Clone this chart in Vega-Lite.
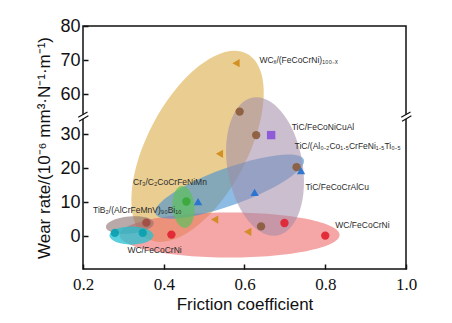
{
  "$schema": "https://vega.github.io/schema/vega-lite/v6.json",
  "width": 323,
  "height": 243,
  "autosize": "none",
  "padding": {"left": 83, "top": 26, "right": 46, "bottom": 54},
  "background": "white",
  "config": {
    "view": {"stroke": "#111", "strokeWidth": 1.5},
    "axis": {"grid": false, "domain": false, "tickColor": "#111", "tickWidth": 1.5, "tickSize": -5, "labelColor": "#111", "titleColor": "#111", "titleFontWeight": "normal"}
  },
  "datasets": {
    "ellipses": [
      {"name": "yellow", "x": 0.484, "y": 26.4},
      {"name": "mauve", "x": 0.651, "y": 20.5},
      {"name": "blue", "x": 0.563, "y": 14.6},
      {"name": "red", "x": 0.563, "y": 0.4},
      {"name": "green", "x": 0.449, "y": 8.6},
      {"name": "tib2", "x": 0.316, "y": 3.3},
      {"name": "cyan", "x": 0.32, "y": 0.2}
    ],
    "points": [
      {"series": "WCx", "x": 0.579, "y": 69.1},
      {"series": "WCx", "x": 0.538, "y": 24.2},
      {"series": "WCx", "x": 0.526, "y": 4.9},
      {"series": "WCx", "x": 0.608, "y": 1.3},
      {"series": "FeCoNiCuAl", "x": 0.588, "y": 54.9},
      {"series": "FeCoNiCuAl", "x": 0.629, "y": 29.7},
      {"series": "FeCoNiCuAl", "x": 0.641, "y": 2.9},
      {"series": "FeCoNiCuAl", "x": 0.729, "y": 20.3},
      {"series": "AlCoCrFeNiTi", "x": 0.666, "y": 29.7},
      {"series": "FeCoCrAlCu", "x": 0.74, "y": 19.3},
      {"series": "FeCoCrAlCu", "x": 0.625, "y": 12.9},
      {"series": "FeCoCrAlCu", "x": 0.485, "y": 10.2},
      {"series": "CoCrFeNiMn", "x": 0.456, "y": 10.2},
      {"series": "WC", "x": 0.419, "y": 0.5},
      {"series": "WC", "x": 0.699, "y": 3.9},
      {"series": "WC", "x": 0.8, "y": 0.2},
      {"series": "WC2", "x": 0.279, "y": 1.0},
      {"series": "WC2", "x": 0.348, "y": 1.0},
      {"series": "TiB2", "x": 0.357, "y": 4.0}
    ],
    "labels": [
      {"label": "WCₓ/(FeCoCrNi)₁₀₀₋ₓ", "x": 0.637, "y": 70},
      {"label": "TiC/FeCoNiCuAl", "x": 0.717, "y": 32.2},
      {"label": "TiC/(Al₀.₂Co₁.₅CrFeNi₁.₅Ti₀.₅", "x": 0.724, "y": 26.5},
      {"label": "TiC/FeCoCrAlCu", "x": 0.751, "y": 14.6},
      {"label": "WC/FeCoCrNi", "x": 0.825, "y": 3.4},
      {"label": "Cr₃/C₂CoCrFeNiMn", "x": 0.324, "y": 15.8},
      {"label": "TiB₂/(AlCrFeMnV)₉₀Bi₁₀", "x": 0.225, "y": 7.6},
      {"label": "WC/FeCoCrNi", "x": 0.31, "y": -4.1}
    ],
    "breaks": [
      {"x": 0.2, "y": 44},
      {"x": 1.0, "y": 44}
    ]
  },
  "encoding": {
    "x": {"field": "x", "type": "quantitative",
      "scale": {"domain": [0.2, 1.0], "nice": false, "zero": false},
      "axis": {"values": [0.2, 0.4, 0.6, 0.8, 1.0], "format": ".1f", "title": "Friction coefficient",
        "labelFont": "Liberation Serif", "labelFontSize": 17, "labelPadding": 12, "labelFlush": false,
        "titleFont": "Liberation Sans", "titleFontSize": 17, "titlePadding": 4}},
    "y": {"field": "y", "type": "quantitative",
      "scale": {"domain": [-9.6, 35.1, 53.4, 80], "range": [243, 90.7, 90.7, 0], "nice": false, "zero": false},
      "axis": {"values": [0, 10, 20, 30, 60, 70, 80], "title": "Wear rate/(10⁻⁶ mm³·N⁻¹·m⁻¹)",
        "labelFont": "Liberation Sans", "labelFontSize": 18, "labelPadding": 8,
        "titleFont": "Liberation Sans", "titleFontSize": 17, "titlePadding": 6}}
  },
  "layer": [
    {"data": {"name": "ellipses"}, "transform": [{"filter": "datum.name === 'yellow'"}],
     "mark": {"type": "point", "filled": true, "shape": "M 1 0 C 1 0.2629 0.5523 0.476 0 0.476 C -0.5523 0.476 -1 0.2629 -1 0 C -1 -0.2629 -0.5523 -0.476 0 -0.476 C 0.5523 -0.476 1 -0.2629 1 0 Z", "size": 44100, "angle": 298, "color": "#dcae48", "opacity": 0.6, "strokeWidth": 0}},
    {"data": {"name": "ellipses"}, "transform": [{"filter": "datum.name === 'red'"}],
     "mark": {"type": "point", "filled": true, "shape": "M 1 0 C 1 0.1129 0.5523 0.2045 0 0.2045 C -0.5523 0.2045 -1 0.1129 -1 0 C -1 -0.1129 -0.5523 -0.2045 0 -0.2045 C 0.5523 -0.2045 1 -0.1129 1 0 Z", "size": 48400, "angle": 0, "color": "#ee6a6a", "opacity": 0.6, "strokeWidth": 0}},
    {"data": {"name": "ellipses"}, "transform": [{"filter": "datum.name === 'blue'"}],
     "mark": {"type": "point", "filled": true, "shape": "M 1 0 C 1 0.1298 0.5523 0.235 0 0.235 C -0.5523 0.235 -1 0.1298 -1 0 C -1 -0.1298 -0.5523 -0.235 0 -0.235 C 0.5523 -0.235 1 -0.1298 1 0 Z", "size": 24964, "angle": 340, "color": "#3f8fd2", "opacity": 0.6, "strokeWidth": 0}},
    {"data": {"name": "ellipses"}, "transform": [{"filter": "datum.name === 'mauve'"}],
     "mark": {"type": "point", "filled": true, "shape": "M 1 0 C 1 0.296 0.5523 0.536 0 0.536 C -0.5523 0.536 -1 0.296 -1 0 C -1 -0.296 -0.5523 -0.536 0 -0.536 C 0.5523 -0.536 1 -0.296 1 0 Z", "size": 19600, "angle": 80, "color": "#a08aa8", "opacity": 0.55, "strokeWidth": 0}},
    {"data": {"name": "ellipses"}, "transform": [{"filter": "datum.name === 'green'"}],
     "mark": {"type": "point", "filled": true, "shape": "M 1 0 C 1 0.2894 0.5523 0.524 0 0.524 C -0.5523 0.524 -1 0.2894 -1 0 C -1 -0.2894 -0.5523 -0.524 0 -0.524 C 0.5523 -0.524 1 -0.2894 1 0 Z", "size": 1764, "angle": 85, "color": "#5cc05c", "opacity": 0.7, "strokeWidth": 0}},
    {"data": {"name": "ellipses"}, "transform": [{"filter": "datum.name === 'tib2'"}],
     "mark": {"type": "point", "filled": true, "shape": "M 1 0 C 1 0.1955 0.5523 0.354 0 0.354 C -0.5523 0.354 -1 0.1955 -1 0 C -1 -0.1955 -0.5523 -0.354 0 -0.354 C 0.5523 -0.354 1 -0.1955 1 0 Z", "size": 2304, "angle": 355, "color": "#8c7070", "opacity": 0.6, "strokeWidth": 0}},
    {"data": {"name": "ellipses"}, "transform": [{"filter": "datum.name === 'cyan'"}],
     "mark": {"type": "point", "filled": true, "shape": "M 1 0 C 1 0.2264 0.5523 0.41 0 0.41 C -0.5523 0.41 -1 0.2264 -1 0 C -1 -0.2264 -0.5523 -0.41 0 -0.41 C 0.5523 -0.41 1 -0.2264 1 0 Z", "size": 1936, "angle": 0, "color": "#22c0d0", "opacity": 0.75, "strokeWidth": 0}},
    {"data": {"name": "points"},
     "mark": {"type": "point", "filled": true, "size": 70, "opacity": 0.9, "strokeWidth": 0},
     "encoding": {
       "color": {"field": "series", "type": "nominal", "legend": null,
         "scale": {"domain": ["WCx", "FeCoNiCuAl", "AlCoCrFeNiTi", "FeCoCrAlCu", "CoCrFeNiMn", "WC", "WC2", "TiB2"],
                   "range": ["#d08a18", "#8a5a3a", "#8a50d8", "#1f6fd0", "#38a838", "#e02030", "#0aa0b0", "#a04a40"]}},
       "shape": {"field": "series", "type": "nominal", "legend": null,
         "scale": {"domain": ["WCx", "FeCoNiCuAl", "AlCoCrFeNiTi", "FeCoCrAlCu", "CoCrFeNiMn", "WC", "WC2", "TiB2"],
                   "range": ["triangle-left", "circle", "square", "triangle-up", "circle", "circle", "circle", "circle"]}}
     }},
    {"data": {"name": "labels"},
     "mark": {"type": "text", "align": "left", "baseline": "middle", "font": "Liberation Sans", "fontSize": 8.5, "color": "#2a2a2a"},
     "encoding": {"text": {"field": "label"}}},
    {"data": {"name": "breaks"},
     "mark": {"type": "point", "filled": true, "shape": "M -0.4 -0.36 L 0.4 -0.36 L 0.4 0.36 L -0.4 0.36 Z", "size": 144, "color": "white", "opacity": 1, "strokeWidth": 0}},
    {"data": {"name": "breaks"},
     "mark": {"type": "point", "filled": false, "shape": "M -0.8 0.1 L 0.75 -0.8 M -0.65 0.75 L 0.9 -0.15", "size": 144, "color": "#111", "opacity": 1, "strokeWidth": 1.2}}
  ]
}
